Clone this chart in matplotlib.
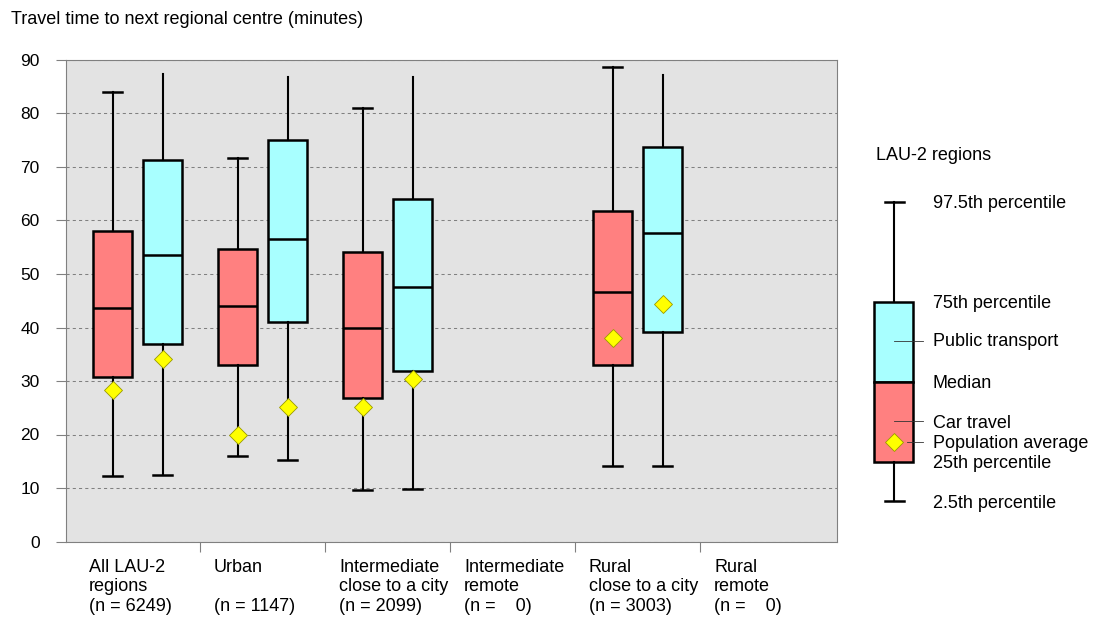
import matplotlib
matplotlib.use('Agg')
import matplotlib.pyplot as plt
from matplotlib.patches import Rectangle
from matplotlib.transforms import blended_transform_factory

plt.rcParams['font.family'] = ['Liberation Sans', 'DejaVu Sans']

# ---------------- data ----------------
categories = [
    "All LAU-2\nregions\n(n = 6249)",
    "Urban\n\n(n = 1147)",
    "Intermediate\nclose to a city\n(n = 2099)",
    "Intermediate\nremote\n(n =    0)",
    "Rural\nclose to a city\n(n = 3003)",
    "Rural\nremote\n(n =    0)",
]

# Car travel (minutes)
car_p025 = [12.2, 16.0, 9.7, None, 14.2, None]
car_q1   = [30.8, 32.9, 26.8, None, 33.0, None]
car_med  = [43.6, 44.1, 39.9, None, 46.7, None]
car_q3   = [58.0, 54.7, 54.1, None, 61.8, None]
car_p975 = [84.0, 71.6, 81.0, None, 88.7, None]
car_mean = [28.3, 19.9, 25.2, None, 38.0, None]

# Public transport (minutes)
pt_p025 = [12.5, 15.3, 9.8, None, 14.2, None]
pt_q1   = [37.0, 41.0, 31.9, None, 39.1, None]
pt_med  = [53.5, 56.5, 47.6, None, 57.7, None]
pt_q3   = [71.4, 75.0, 64.0, None, 73.8, None]
pt_p975 = [87.3, 86.8, 86.8, None, 87.2, None]
pt_mean = [34.1, 25.2, 30.4, None, 44.4, None]

y_ticks = [0, 10, 20, 30, 40, 50, 60, 70, 80, 90]

title = "Travel time to next regional centre (minutes)"
legend_title = "LAU-2 regions"

CAR_COLOR = '#ff8080'
PT_COLOR = '#a8ffff'
MEAN_COLOR = '#ffff00'
BG = '#e3e3e3'
GRAY = '#808080'
FS = 13

W, H = 1094, 622
fig = plt.figure(figsize=(W / 100, H / 100), dpi=100)
ax = fig.add_axes([66 / W, (H - 541.5) / H, (837 - 66) / W, (541.5 - 60) / H])
ax.set_facecolor(BG)


def stats(lo, q1, med, q3, hi, mean):
    out, pos = [], []
    for i in range(len(lo)):
        if lo[i] is None:
            continue
        out.append(dict(whislo=lo[i], q1=q1[i], med=med[i], q3=q3[i],
                        whishi=hi[i], mean=mean[i], fliers=[]))
        pos.append(i)
    return out, pos


common = dict(widths=0.312, capwidths=0.15, showmeans=True, patch_artist=True,
              showfliers=False,
              boxprops=dict(edgecolor='black', linewidth=1.8),
              medianprops=dict(color='black', linewidth=1.8),
              whiskerprops=dict(color='black', linewidth=1.5),
              capprops=dict(color='black', linewidth=1.8),
              meanprops=dict(marker='D', markerfacecolor=MEAN_COLOR,
                             markeredgecolor='#999900', markeredgewidth=0.6,
                             markersize=9.5))

car_stats, car_pos = stats(car_p025, car_q1, car_med, car_q3, car_p975, car_mean)
pt_stats, pt_pos = stats(pt_p025, pt_q1, pt_med, pt_q3, pt_p975, pt_mean)

bc = ax.bxp(car_stats, positions=[p + 0.5 - 0.2 for p in car_pos], **common)
bp = ax.bxp(pt_stats, positions=[p + 0.5 + 0.2 for p in pt_pos], **common)
for b in bc['boxes']:
    b.set_facecolor(CAR_COLOR)
for b in bp['boxes']:
    b.set_facecolor(PT_COLOR)
# public transport: no cap on the upper whisker
for k, c in enumerate(bp['caps']):
    if k % 2 == 1:
        c.set_visible(False)
for m in bc['means'] + bp['means']:
    m.set_zorder(5)

ax.set_xlim(-9 / 125, 762 / 125)
ax.set_ylim(0, 90)
ax.set_yticks(y_ticks)
ax.set_yticklabels([str(t) for t in y_ticks], fontsize=12.5)
ax.set_xticks([1, 2, 3, 4, 5])
ax.set_xticklabels([])
ax.tick_params(axis='y', direction='out', length=7, width=0.8, color=GRAY, pad=12)
ax.tick_params(axis='x', direction='out', length=7.5, width=0.8, color=GRAY)
ax.yaxis.grid(True, color=GRAY, linestyle=(0, (3, 3)), linewidth=0.75)
ax.set_axisbelow(True)
for s in ax.spines.values():
    s.set_color(GRAY)
    s.set_linewidth(0.8)

trans = blended_transform_factory(ax.transData, ax.transAxes)
for i, lab in enumerate(categories):
    ax.text(i + 0.112, -17.5 / 481.5, lab, transform=trans, ha='left', va='top',
            fontsize=FS, linespacing=1.19)

fig.text(11 / W, 1 - 20 / H, title, ha='left', va='center', fontsize=FS)

# ---------------- legend schematic (pixel coordinates) ----------------
lax = fig.add_axes([0, 0, 1, 1], zorder=3)
lax.set_xlim(0, W)
lax.set_ylim(H, 0)
lax.axis('off')
lax.patch.set_alpha(0)

lx_c, lx_l, lx_r = 894, 874.3, 912.7
y_top, y_q3, y_med, y_q1, y_bot = 201.7, 301.7, 382.3, 461.7, 501
lax.plot([lx_c, lx_c], [y_top, y_q3], color='black', lw=1.5)
lax.plot([lx_c, lx_c], [y_q1, y_bot], color='black', lw=1.5)
lax.plot([lx_c - 9.5, lx_c + 9.5], [y_top, y_top], color='black', lw=1.8)
lax.plot([lx_c - 9.5, lx_c + 9.5], [y_bot, y_bot], color='black', lw=1.8)
lax.add_patch(Rectangle((lx_l, y_q3), lx_r - lx_l, y_med - y_q3,
                        facecolor=PT_COLOR, edgecolor='black', lw=1.8))
lax.add_patch(Rectangle((lx_l, y_med), lx_r - lx_l, y_q1 - y_med,
                        facecolor=CAR_COLOR, edgecolor='black', lw=1.8))
lax.plot([lx_c, 922.7], [340.7, 340.7], color='#333333', lw=0.6)
lax.plot([lx_c, 922.7], [421, 421], color='#333333', lw=0.6)
lax.plot([906.7, 922.7], [441.7, 441.7], color='#333333', lw=0.6)
lax.plot([lx_c], [441.7], marker='D', markerfacecolor=MEAN_COLOR,
         markeredgecolor='#999900', markeredgewidth=0.6, markersize=9.5)

tx = 932.7
for txt, yy in [("97.5th percentile", 204), ("75th percentile", 304),
                ("Public transport", 342), ("Median", 384), ("Car travel", 423),
                ("Population average", 444), ("25th percentile", 463),
                ("2.5th percentile", 504)]:
    lax.text(tx, yy, txt, ha='left', va='center', fontsize=FS)
lax.text(875.7, 155, legend_title, ha='left', va='center', fontsize=FS)

fig.savefig('out.png', dpi=100, facecolor='white')
